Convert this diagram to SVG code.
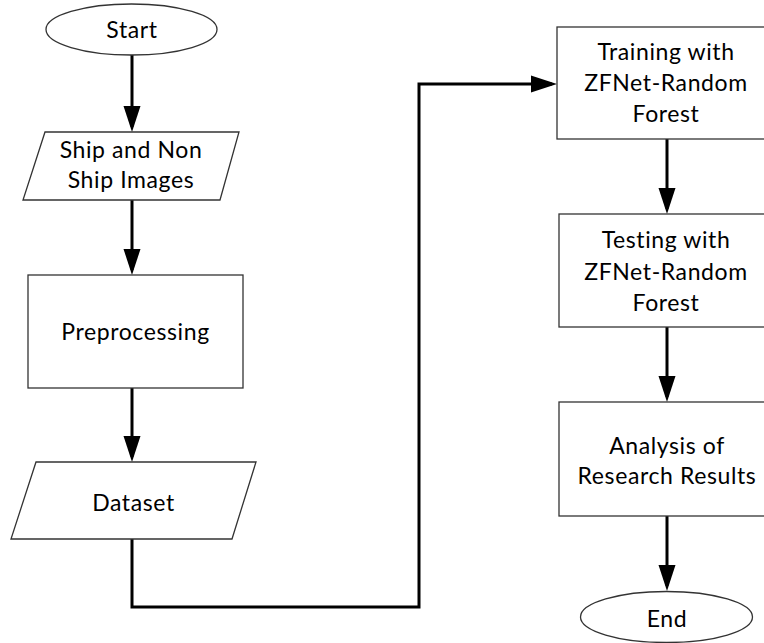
<svg xmlns="http://www.w3.org/2000/svg" width="764" height="643" viewBox="0 0 764 643">
<style>
  .shape { fill: #ffffff; stroke: #333333; stroke-width: 1.3; }
  .label { font-family: Lato, "Open Sans", "Liberation Sans", sans-serif; font-size: 23px; letter-spacing: 0.6px; fill: #000000; text-anchor: middle; }
  .conn { fill: none; stroke: #000000; stroke-width: 3; }
</style>
<defs>
  <marker id="arrow" markerUnits="userSpaceOnUse" markerWidth="27" markerHeight="18" viewBox="0 0 27 18" refX="21" refY="9" orient="auto">
    <path d="M0,0.5 L26,9 L0,17.5 z" fill="#000000"/>
  </marker>
</defs>
<rect width="764" height="643" fill="#ffffff"/>

<g id="connectors">
  <path class="conn" d="M132,55 V127" marker-end="url(#arrow)"/>
  <path class="conn" d="M132,200 V270" marker-end="url(#arrow)"/>
  <path class="conn" d="M132,388 V457" marker-end="url(#arrow)"/>
  <path class="conn" d="M132,539 V607 H419 V84 H552" marker-end="url(#arrow)"/>
  <path class="conn" d="M667,139 V209" marker-end="url(#arrow)"/>
  <path class="conn" d="M667,327 V397" marker-end="url(#arrow)"/>
  <path class="conn" d="M667,516 V586" marker-end="url(#arrow)"/>
</g>

<g id="start">
  <ellipse class="shape" cx="131.5" cy="29.5" rx="85.5" ry="25.5"/>
  <text class="label" x="132" y="38">Start</text>
</g>

<g id="ship-images">
  <polygon class="shape" points="45,132 239,132 220,200 23,200"/>
  <text class="label" x="131" y="158">Ship and Non</text>
  <text class="label" x="131" y="188">Ship Images</text>
</g>

<g id="preprocessing">
  <rect class="shape" x="28" y="275" width="215" height="113"/>
  <text class="label" x="135.5" y="340">Preprocessing</text>
</g>

<g id="dataset">
  <polygon class="shape" points="36,462 256,462 232,539 11,539"/>
  <text class="label" x="133.5" y="511">Dataset</text>
</g>

<g id="training">
  <rect class="shape" x="557" y="27" width="217" height="112"/>
  <text class="label" x="666" y="60">Training with</text>
  <text class="label" x="666" y="91">ZFNet-Random</text>
  <text class="label" x="666" y="122">Forest</text>
</g>

<g id="testing">
  <rect class="shape" x="559" y="214" width="215" height="113"/>
  <text class="label" x="666" y="248">Testing with</text>
  <text class="label" x="666" y="280">ZFNet-Random</text>
  <text class="label" x="666" y="311">Forest</text>
</g>

<g id="analysis">
  <rect class="shape" x="559" y="402" width="215" height="114"/>
  <text class="label" x="667" y="454">Analysis of</text>
  <text class="label" x="667" y="484">Research Results</text>
</g>

<g id="end">
  <ellipse class="shape" cx="666.5" cy="617" rx="86" ry="25.5"/>
  <text class="label" x="667" y="627">End</text>
</g>
</svg>
